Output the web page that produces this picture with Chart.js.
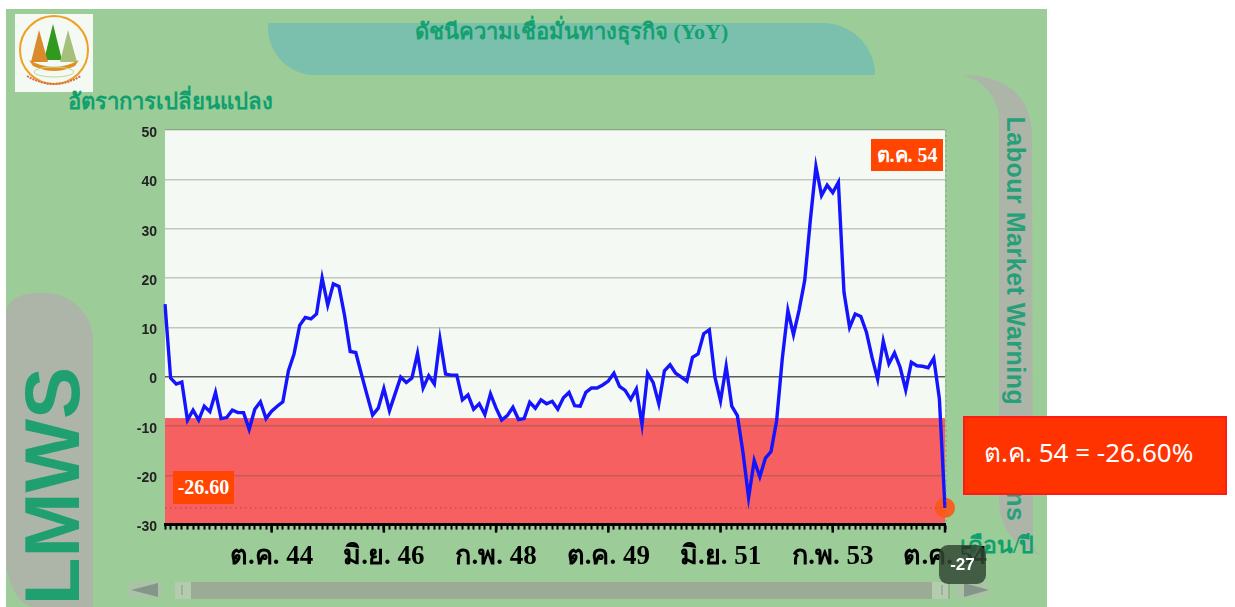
<!DOCTYPE html>
<html>
<head>
<meta charset="utf-8">
<script src="https://cdn.jsdelivr.net/npm/chart.js@4"></script>
<style>
html,body{margin:0;padding:0;background:#fff;width:1235px;height:607px;overflow:hidden;}
.abs{position:absolute;}
#wrap{position:absolute;left:0;top:0;width:1235px;height:607px;filter:blur(0.45px);}
#panel{left:6px;top:9px;width:1041px;height:598px;background:#9ccc98;}
#head{left:268px;top:23px;width:607px;height:52px;background:#7ac0ac;border-radius:0 55px 0 50px;}
#title{left:268px;top:14px;width:607px;text-align:center;font:bold 22px "Liberation Serif","Noto Sans",serif;color:#14a070;}
#logo{left:15px;top:14px;}
#yname{left:68px;top:84px;font:bold 22.1px "Liberation Serif","Noto Sans",serif;color:#0fa06e;}
#leftbar{left:6px;top:293px;width:87px;height:314px;background:#adb5a8;border-radius:30px 48px 0 30px / 20px 48px 0 50px;}
#lmws{left:52px;top:486px;transform:translate(-50%,-50%) rotate(-90deg);font:bold 78px "Liberation Sans",sans-serif;color:#20a070;white-space:nowrap;}
#rightbar{left:0;top:0;}
#labour{left:1015px;top:319px;transform:translate(-50%,-50%) rotate(90deg);font:bold 25px "Liberation Sans",sans-serif;letter-spacing:0.5px;color:#27a07a;white-space:nowrap;}
#labour span{margin-left:38px;}
#xname{left:960px;top:527px;font:bold 23px "Liberation Serif","Noto Sans",serif;color:#0fa06e;white-space:nowrap;}
#chartbox{left:0;top:0;width:1235px;height:607px;}
#tagtop{left:871px;top:139px;width:72px;height:32px;text-align:center;background:#ff4500;color:#fff;font:bold 20px/32px "Liberation Serif","Noto Sans",serif;}
#tagval{left:173px;top:471px;width:61px;height:33px;text-align:center;background:#ff4500;color:#fff;font:bold 20px/33px "Liberation Serif",serif;}
#track{left:175px;top:582px;width:775px;height:17px;background:#9cab96;}
.thumb{top:582px;width:16px;height:17px;background:#b4ccae;}
.btn{top:581px;width:34px;height:17px;background:#a9c4a4;border-radius:5px;}
#badge{left:939px;top:545px;width:47px;height:39px;background:rgba(50,72,52,0.84);border-radius:9px;color:#fff;text-align:center;font:bold 17px/40px "Liberation Sans",sans-serif;}
#callout{left:963px;top:416px;width:260px;height:75px;background:#ff3300;border:2px solid #ff1a1a;color:#fff;font:26px/68px "Noto Sans",sans-serif;}
#callout span{position:absolute;left:19px;top:0;white-space:nowrap;}
</style>
</head>
<body>
<div id="wrap">
  <div class="abs" id="panel"></div>
  <div class="abs" id="head"></div>
  <div class="abs" id="title">ดัชนีความเชื่อมั่นทางธุรกิจ (YoY)</div>
  <svg class="abs" id="logo" width="78" height="78" viewBox="0 0 78 78">
    <rect width="78" height="78" fill="#f5f9f3"/>
    <circle cx="39" cy="36" r="34" fill="none" stroke="#f0a020" stroke-width="2"/>
    <path d="M38 10 L47 46 L29 46 Z" fill="#2f9a1e"/>
    <path d="M24 16 L33 48 L16 48 Z" fill="#d98a2a"/>
    <path d="M53 16 L62 48 L45 48 Z" fill="#a5c07a"/>
    <path d="M14 46 Q39 60 64 46 L60 52 Q39 62 18 52 Z" fill="#e09020"/>
    <ellipse cx="39" cy="58" rx="20" ry="5" fill="none" stroke="#bfd8a0"/>
    <path d="M12 62 Q39 78 66 62" fill="none" stroke="#d07050" stroke-width="2" stroke-dasharray="2 1"/>
  </svg>
  <div class="abs" id="yname">อัตราการเปลี่ยนแปลง</div>
  <div class="abs" id="leftbar"></div>
  <div class="abs" id="lmws">LMWS</div>
  <svg class="abs" id="rightbar" width="1235" height="607">
    <path d="M962 75 C1005 75 1031 95 1032 135 L1033 545 Q1034 553 1046 557 C1015 548 1000 530 999 500 L999 120 C999 100 985 80 962 75 Z" fill="#adb5a8"/>
  </svg>
  <div class="abs" id="labour">Labour Market Warning <span>Signs</span></div>
  <div class="abs" id="track"></div>
  <div class="abs thumb" style="left:175px"></div>
  <div class="abs thumb" style="left:932px"></div>
  <div class="abs btn" style="left:128px"></div>
  <div class="abs btn" style="left:955px"></div>
  <svg class="abs" style="left:0;top:0" width="1235" height="607">
    <path d="M131 590 L158 583 L158 597 Z" fill="#86958a"/>
    <path d="M989 590 L964 583 L964 597 Z" fill="#86958a"/>
    <path d="M182 585 V595 M942 585 V595" stroke="#86958a" stroke-width="1"/>
  </svg>
  <div class="abs" id="xname">เดือน/ปี</div>
  <div class="abs" id="chartbox"><canvas id="lineChart" width="1235" height="607"></canvas></div>
  <div class="abs" id="tagtop">ต.ค. 54</div>
  <div class="abs" id="tagval">-26.60</div>
  <div class="abs" id="badge">-27</div>
</div>
<div class="abs" id="callout"><span>ต.ค. 54 = -26.60%</span></div>

<script>
//data, monthly from มี.ค. 43 to ต.ค. 54
const monthNames = ['ม.ค.','ก.พ.','มี.ค.','เม.ย.','พ.ค.','มิ.ย.','ก.ค.','ส.ค.','ก.ย.','ต.ค.','พ.ย.','ธ.ค.'];
const tickLabels = ['ต.ค. 44','มิ.ย. 46','ก.พ. 48','ต.ค. 49','มิ.ย. 51','ก.พ. 53','ต.ค. 54'];
const yTicks = [50,40,30,20,10,0,-10,-20,-30];
const changeValues = [
    14.7,-0.3,-1.5,-1.1,-8.8,-6.8,-8.8,-6.0,-7.1,-3.2,
    -8.5,-8.3,-6.8,-7.3,-7.3,-10.7,-6.6,-5.1,-8.5,-7.0,
    -6.0,-5.1,1.2,4.6,10.4,12.0,11.7,12.7,20.0,14.5,
    18.8,18.3,12.4,5.1,4.9,0.5,-3.7,-7.8,-6.4,-2.4,
    -6.9,-3.5,-0.1,-1.2,-0.3,4.7,-2.3,0.2,-1.5,7.6,
    0.5,0.3,0.3,-4.7,-3.7,-6.6,-5.5,-7.7,-3.5,-6.4,
    -8.8,-7.9,-6.2,-8.7,-8.5,-5.2,-6.4,-4.7,-5.5,-5.0,
    -6.6,-4.3,-3.2,-5.9,-6.0,-3.2,-2.3,-2.3,-1.7,-0.9,
    0.7,-2.0,-2.8,-4.6,-2.5,-9.7,0.7,-1.2,-5.5,1.2,
    2.4,0.7,-0.1,-0.9,3.9,4.6,8.7,9.5,-0.1,-4.9,
    2.1,-6.0,-7.9,-15.4,-24.5,-17.0,-20.3,-16.5,-15.2,-8.9,
    3.6,13.4,8.5,13.5,19.5,31.7,42.6,36.7,38.8,37.3,
    39.4,17.1,10.0,12.7,12.2,9.0,3.9,-0.5,7.2,2.6,
    4.8,1.9,-2.7,2.9,2.2,2.1,1.8,3.7,-4.5,-26.6
];
const warningLevel = -8.4;
const lastValue = -26.6;

const categories = [];
for (let i = 0; i < changeValues.length; i++) {
    const m = 2 + i;
    categories.push(monthNames[m % 12] + ' ' + (43 + Math.floor(m / 12)));
}
const markerValues = changeValues.map((v, i) => i === changeValues.length - 1 ? v : null);

//plot background, red band, dotted line
const plotBackground = {
    id: 'plotBackground',
    beforeDraw(chart) {
        const c = chart.ctx, a = chart.chartArea, y = chart.scales.y;
        c.save();
        c.fillStyle = '#f5f9f3';
        c.fillRect(a.left, a.top, a.width, a.height);
        c.fillStyle = '#f76060';
        c.fillRect(a.left, y.getPixelForValue(warningLevel), a.width, a.bottom - y.getPixelForValue(warningLevel));
        c.restore();
    },
    afterDraw(chart) {
        const c = chart.ctx, a = chart.chartArea, y = chart.scales.y, x = chart.scales.x;
        c.save();
        c.strokeStyle = 'rgba(150,60,50,0.7)';
        c.setLineDash([1.5, 3.5]);
        c.beginPath();
        c.moveTo(a.left, y.getPixelForValue(lastValue));
        c.lineTo(a.right, y.getPixelForValue(lastValue));
        c.stroke();
        c.strokeStyle = 'rgba(120,130,120,0.8)';
        c.beginPath();
        c.moveTo(a.right + 1, a.top);
        c.lineTo(a.right + 1, a.bottom);
        c.stroke();
        //longer ticks under the labelled months
        c.setLineDash([]);
        c.strokeStyle = '#000';
        c.lineWidth = 2.5;
        x.ticks.forEach((t, i) => {
            if (!tickLabels.includes(categories[i])) return;
            const px = x.getPixelForTick(i);
            c.beginPath();
            c.moveTo(px, a.bottom);
            c.lineTo(px, a.bottom + 8);
            c.stroke();
        });
        c.restore();
    }
};

const ctx = document.getElementById('lineChart').getContext('2d');
const lineChart = new Chart(ctx, {
    type: 'line',
    data: {
        labels: categories,
        datasets: [{
            data: changeValues,
            borderColor: '#1414ff',
            borderWidth: 3.4,
            tension: 0,
            pointRadius: 0,
            order: 1
        },{
            data: markerValues,
            showLine: false,
            pointRadius: 10,
            pointBorderWidth: 0,
            pointBackgroundColor: 'rgba(255,85,20,0.9)',
            order: 2
        }]
    },
    plugins: [plotBackground],
    options: {
        responsive: false,
        animation: false,
        events: [],
        layout: { padding: { top: 130, right: 290, left: 0, bottom: 0 } },
        scales: {
            x: {
                afterFit(scale) { scale.height = 82.4; },
                grid: { drawOnChartArea: false, tickLength: 5, tickColor: '#000', tickWidth: 2 },
                border: { color: '#000', width: 3 },
                ticks: {
                    autoSkip: false,
                    maxRotation: 0,
                    minRotation: 0,
                    padding: 11,
                    color: '#000',
                    font: { family: '"Liberation Serif","Noto Sans",serif', weight: 'bold', size: 27 },
                    callback(value) {
                        const label = this.getLabelForValue(value);
                        return tickLabels.includes(label) ? label : '';
                    }
                }
            },
            y: {
                min: -30,
                max: 50,
                afterFit(scale) { scale.width = 165; },
                afterBuildTicks(scale) { scale.ticks = yTicks.map(v => ({ value: v })); },
                border: { display: false },
                grid: {
                    drawTicks: false,
                    lineWidth: 1.5,
                    color: c => c.tick.value === 0 ? 'rgba(40,40,40,0.75)' : 'rgba(80,80,70,0.3)'
                },
                ticks: {
                    padding: 8,
                    color: '#222',
                    font: { family: '"Liberation Sans",sans-serif', weight: 'bold', size: 14, lineHeight: 0.43 },
                    callback: value => ['', String(value)]
                }
            }
        },
        plugins: {
            legend: { display: false },
            tooltip: { enabled: false }
        }
    }
});
</script>
</body>
</html>
